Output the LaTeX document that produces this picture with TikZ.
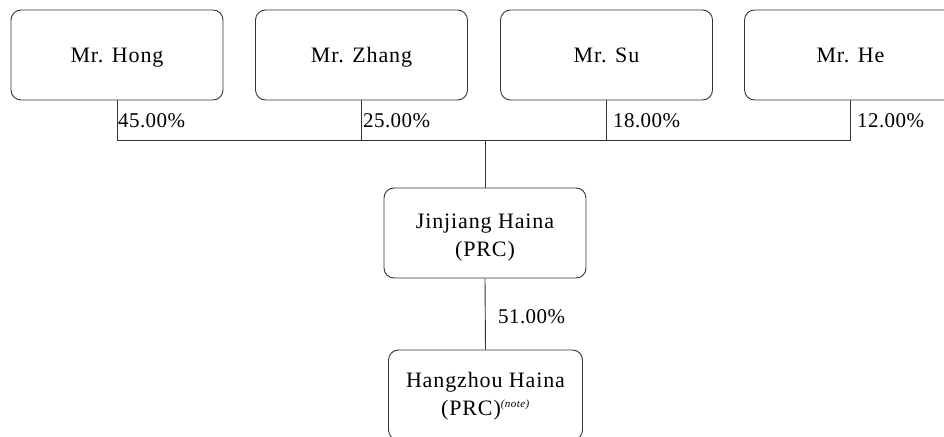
\documentclass[tikz,border=0pt]{standalone}
\usepackage{fontspec}
\setmainfont{Liberation Serif}
\begin{document}
\begin{tikzpicture}[x=1pt,y=1pt,
  box/.style={draw=black!80, line width=0.9pt, rounded corners=10pt, minimum width=212pt, minimum height=90pt, inner sep=0pt},
  lbl/.style={align=center, inner sep=0pt, font=\fontsize{22}{28}\selectfont\addfontfeatures{LetterSpace=4}},
  pct/.style={inner sep=0pt, font=\fontsize{21}{24}\selectfont\addfontfeatures{LetterSpace=2}},
  conn/.style={draw=black!80, line width=0.9pt}]
\useasboundingbox (0,0) rectangle (944,436);
\begin{scope}
\clip (0,0) rectangle (944,436);
\node[box] (hong) at (117,381) {};
\node[box] (zhang) at (361.5,381) {};
\node[box] (su) at (606.5,381) {};
\node[box] (he) at (850.5,381) {};
\node[box, minimum width=202pt] (jj) at (485,203) {};
\node[box, minimum width=194pt] (hz) at (485.5,41) {};
\node[lbl, anchor=base] (honglbl) at ([yshift=-8pt]hong.center) {Mr. Hong};
\node[lbl, anchor=base] (zhanglbl) at ([yshift=-8pt]zhang.center) {Mr. Zhang};
\node[lbl, anchor=base] (sulbl) at ([yshift=-8pt]su.center) {Mr. Su};
\node[lbl, anchor=base] (helbl) at ([yshift=-8pt]he.center) {Mr. He};
\node[lbl] (jjlbl) at ([yshift=-5pt]jj.center) {Jinjiang Haina\\(PRC)};
\node[lbl] (hzlbl) at ([yshift=-1pt]hz.center) {Hangzhou Haina\\(PRC)\textsuperscript{\fontsize{11}{11}\selectfont\itshape(note)}};
\coordinate (bar) at (485,296);
\draw[conn] (hong.south) -- (hong.south |- bar) -- (he.south |- bar) -- (he.south);
\draw[conn] (zhang.south) -- (zhang.south |- bar);
\draw[conn] (su.south) -- (su.south |- bar);
\draw[conn] (bar) -- (jj.north);
\draw[conn] (jj.south) -- (hz.north);
\node[pct, anchor=base west] (p1) at (118,308) {45.00\%};
\node[pct, anchor=base west] (p2) at (363,308) {25.00\%};
\node[pct, anchor=base west] (p3) at (613,308) {18.00\%};
\node[pct, anchor=base west] (p4) at (857,308) {12.00\%};
\node[pct, anchor=base west] (p5) at (498,112) {51.00\%};
\end{scope}
\end{tikzpicture}
\end{document}
